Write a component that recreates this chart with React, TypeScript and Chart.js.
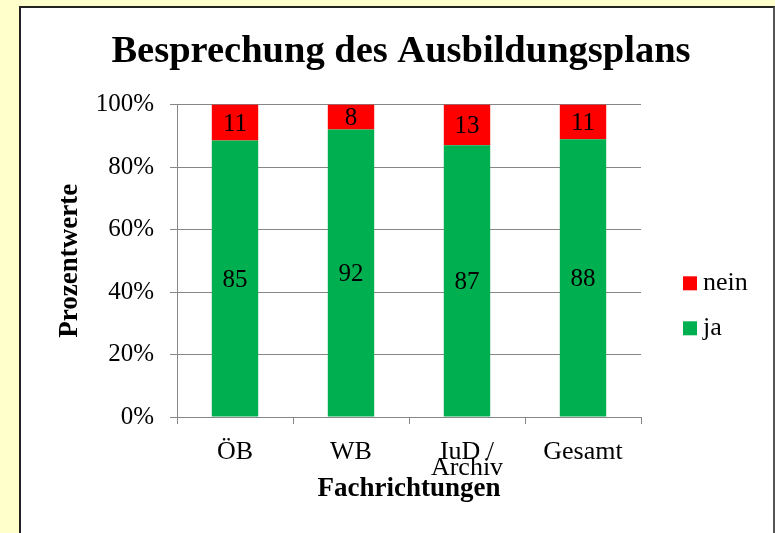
import React, { useEffect, useRef } from 'react';
import { Chart, registerables } from 'chart.js';

Chart.register(...registerables);

const categories: (string | string[])[] = ['ÖB', 'WB', ['IuD /', 'Archiv'], 'Gesamt'];
const jaValues = [85, 92, 87, 88];
const neinValues = [11, 8, 13, 11];
const seriesNames = ['ja', 'nein'];
const seriesColors = ['#00B050', '#FF0000'];
const yTickValues = [0, 20, 40, 60, 80, 100];
const chartTitle = 'Besprechung des Ausbildungsplans';
const xTitle = 'Fachrichtungen';
const yTitle = 'Prozentwerte';

const SERIF = "'Liberation Serif', 'Times New Roman', serif";
const GRID = '#868686';

const totals = jaValues.map((v, i) => v + neinValues[i]);
const jaPct = jaValues.map((v, i) => (v / totals[i]) * 100);
const neinPct = neinValues.map((v, i) => (v / totals[i]) * 100);

const valueLabelPlugin = {
  id: 'valueLabels',
  afterDatasetsDraw(chart: any) {
    const { ctx } = chart;
    ctx.save();
    ctx.font = `25px ${SERIF}`;
    ctx.fillStyle = '#000';
    ctx.textAlign = 'center';
    ctx.textBaseline = 'middle';
    chart.data.datasets.forEach((ds: any, di: number) => {
      const meta = chart.getDatasetMeta(di);
      meta.data.forEach((el: any, i: number) => {
        const raw = ds.rawValues[i];
        const cy = (el.y + el.base) / 2;
        ctx.fillText(String(raw), el.x, cy + 1.5);
      });
    });
    ctx.restore();
  },
};

const legendPlugin = {
  id: 'sideLegend',
  afterDraw(chart: any) {
    const { ctx, chartArea } = chart;
    const items = chart.data.datasets
      .map((d: any) => ({ label: d.label, color: d.backgroundColor }))
      .reverse();
    const x = chartArea.right + 42;
    const cy0 = (chartArea.top + chartArea.bottom) / 2 + 22.5;
    ctx.save();
    ctx.font = `26px ${SERIF}`;
    ctx.textAlign = 'left';
    ctx.textBaseline = 'middle';
    items.forEach((it: any, i: number) => {
      const cy = cy0 + i * 45;
      ctx.fillStyle = it.color;
      ctx.fillRect(x, cy - 7, 14, 14);
      ctx.fillStyle = '#000';
      ctx.fillText(it.label, x + 20, cy);
    });
    ctx.restore();
  },
};

export default function App() {
  const ref = useRef<HTMLCanvasElement>(null);

  useEffect(() => {
    if (!ref.current) return;
    const chart = new Chart(ref.current, {
      type: 'bar',
      data: {
        labels: categories,
        datasets: [
          {
            label: seriesNames[0],
            data: jaPct,
            rawValues: jaValues,
            backgroundColor: seriesColors[0],
            barPercentage: 0.4,
            categoryPercentage: 1,
          } as any,
          {
            label: seriesNames[1],
            data: neinPct,
            rawValues: neinValues,
            backgroundColor: seriesColors[1],
            barPercentage: 0.4,
            categoryPercentage: 1,
          } as any,
        ],
      },
      options: {
        animation: false,
        responsive: false,
        maintainAspectRatio: false,
        devicePixelRatio: 1,
        layout: { padding: { left: 9, right: 0, top: 0, bottom: 0 } },
        plugins: {
          legend: { display: false },
          tooltip: { enabled: false },
          title: {
            display: true,
            text: chartTitle,
            color: '#000',
            font: { family: SERIF, size: 38.5, weight: 'bold', lineHeight: 1.2 },
            padding: { top: 21, bottom: 29.4 },
          },
        },
        scales: {
          x: {
            stacked: true,
            grid: {
              display: true,
              drawOnChartArea: false,
              drawTicks: true,
              tickLength: 7,
              color: GRID,
              offset: true,
            },
            border: { display: true, color: GRID, width: 1 },
            ticks: {
              color: '#000',
              padding: 20.5,
              maxRotation: 0,
              autoSkip: false,
              font: { family: SERIF, size: 26, lineHeight: 0.6 },
            },
            title: {
              display: true,
              text: xTitle,
              color: '#000',
              font: { family: SERIF, size: 27, weight: 'bold', lineHeight: 1.2 },
              padding: { top: 0, bottom: 27.5 },
            },
            afterFit: (s: any) => {
              s.height = 116;
            },
          },
          y: {
            stacked: true,
            min: 0,
            max: 100,
            afterBuildTicks: (s: any) => {
              s.ticks = yTickValues.map((v) => ({ value: v }));
            },
            grid: {
              color: GRID,
              lineWidth: 1,
              tickLength: 7,
              drawTicks: true,
            },
            border: { display: true, color: GRID, width: 1 },
            ticks: {
              color: '#000',
              padding: 16,
              font: { family: SERIF, size: 25 },
              callback: (v: any) => `${v}%`,
            },
            title: {
              display: true,
              text: yTitle,
              color: '#000',
              font: { family: SERIF, size: 27, weight: 'bold', lineHeight: 1.2 },
              padding: { top: 23.8, bottom: 0 },
            },
            afterFit: (s: any) => {
              s.width = 147;
            },
          },
          yRight: {
            position: 'right',
            display: true,
            grid: { display: false },
            border: { display: false },
            ticks: { display: false },
            afterFit: (s: any) => {
              s.width = 131;
            },
          },
        },
      } as any,
      plugins: [valueLabelPlugin, legendPlugin],
    });
    return () => chart.destroy();
  }, []);

  return (
    <div
      style={{
        position: 'fixed',
        inset: 0,
        background: '#FFFFCC',
        overflow: 'hidden',
      }}
    >
      <div
        style={{
          position: 'absolute',
          left: 19,
          top: 6,
          right: 0,
          bottom: -20,
          background: '#fff',
          borderTop: '2px solid #222',
          borderLeft: '2px solid #222',
          borderRight: '2px solid #555',
          boxSizing: 'border-box',
        }}
      >
        <canvas ref={ref} width={751} height={525} style={{ display: 'block', width: 751, height: 525 }} />
      </div>
    </div>
  );
}
